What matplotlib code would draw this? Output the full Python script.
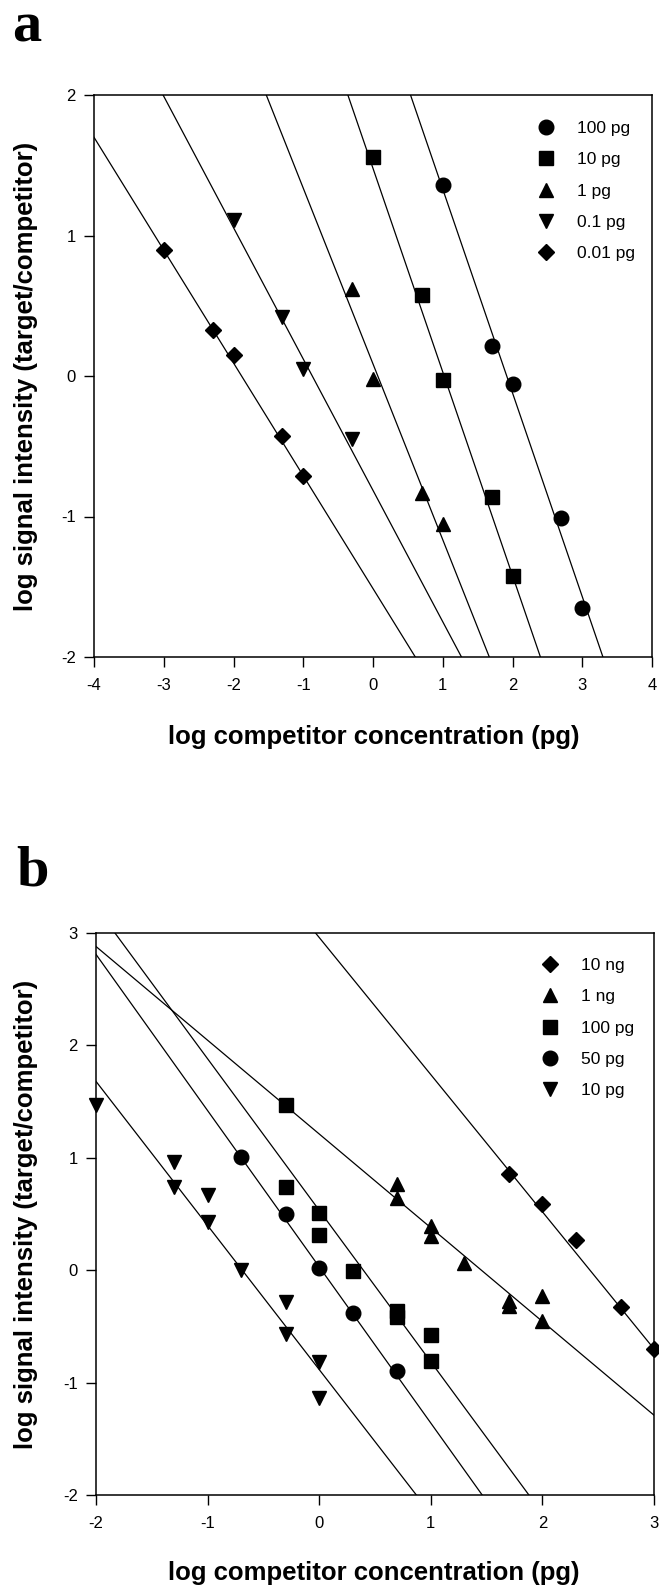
import matplotlib
matplotlib.use('Agg')
import matplotlib.pyplot as plt
import numpy as np

plt.rcParams['font.family'] = ['Liberation Sans', 'DejaVu Sans']
plt.rcParams['axes.unicode_minus'] = False

W, H = 659, 1585

# panel a: five target amounts, log target/competitor ratio vs log competitor
a_labels = ['100 pg', '10 pg', '1 pg', '0.1 pg', '0.01 pg']
a_markers = ['o', 's', '^', 'v', 'D']
a_x = [
    [1, 1.7, 2, 2.7, 3],
    [0, 0.7, 1, 1.7, 2],
    [-0.3, 0, 0.7, 1],
    [-2, -1.3, -1, -0.3],
    [-3, -2.3, -2, -1.3, -1],
]
a_y = [
    [1.36, 0.21, -0.06, -1.01, -1.65],
    [1.56, 0.58, -0.03, -0.86, -1.42],
    [0.62, -0.02, -0.83, -1.05],
    [1.11, 0.42, 0.05, -0.45],
    [0.90, 0.33, 0.15, -0.43, -0.71],
]
# regression lines (slope, intercept)
a_slope = [-1.45, -1.449, -1.251, -0.935, -0.803]
a_icept = [2.78, 1.478, 0.086, -0.814, -1.513]

# panel b
b_labels = ['10 ng', '1 ng', '100 pg', '50 pg', '10 pg']
b_markers = ['D', '^', 's', 'o', 'v']
b_x = [
    [1.7, 2, 2.3, 2.7, 3],
    [0.7, 0.7, 1, 1, 1.3, 1.7, 1.7, 2, 2],
    [-0.3, -0.3, 0, 0, 0.3, 0.7, 0.7, 1, 1],
    [-0.7, -0.3, 0, 0.3, 0.7],
    [-2, -1.3, -1.3, -1, -1, -0.7, -0.3, -0.3, 0, 0],
]
b_y = [
    [0.86, 0.59, 0.27, -0.33, -0.70],
    [0.77, 0.64, 0.39, 0.30, 0.06, -0.27, -0.32, -0.23, -0.45],
    [1.47, 0.74, 0.51, 0.31, -0.01, -0.36, -0.42, -0.58, -0.81],
    [1.01, 0.50, 0.02, -0.38, -0.90],
    [1.47, 0.96, 0.74, 0.67, 0.43, 0.0, -0.28, -0.57, -0.82, -1.14],
]
b_slope = [-1.22, -0.834, -1.348, -1.39, -1.282]
b_icept = [2.96, 1.212, 0.533, 0.03, -0.884]

MS = {'o': 10.5, 's': 9.5, '^': 10.5, 'v': 10.5, 'D': 8.5}


def axes_rect(left, top, right, bottom):
    return [left / W, 1 - bottom / H, (right - left) / W, (bottom - top) / H]


def draw_panel(ax, xs, ys, slopes, icepts, labels, markers, xlim, ylim, anchor):
    xl = np.array(xlim, dtype=float)
    for x, y, m, b, mk, lab in zip(xs, ys, slopes, icepts, markers, labels):
        ax.plot(xl, m * xl + b, color='black', lw=0.9)
        ax.plot(x, y, linestyle='none', marker=mk, ms=MS[mk], color='black',
                clip_on=False, label=lab, zorder=3)
    ax.set_xlim(xlim)
    ax.set_ylim(ylim)
    ax.set_xticks(range(xlim[0], xlim[1] + 1))
    ax.set_yticks(range(ylim[0], ylim[1] + 1))
    ax.tick_params(direction='out', length=7, width=1, labelsize=12, pad=8)
    ax.tick_params(axis='y', pad=6)
    for s in ax.spines.values():
        s.set_linewidth(1.1)
    ax.legend(loc='upper left', bbox_to_anchor=anchor, frameon=False,
              fontsize=12.5, handlelength=1.0, handletextpad=1.28,
              labelspacing=0.93, borderpad=0, borderaxespad=0, numpoints=1)


fig = plt.figure(figsize=(W / 100, H / 100), dpi=100)

ax_a = fig.add_axes(axes_rect(94, 95, 652, 657))
draw_panel(ax_a, a_x, a_y, a_slope, a_icept, a_labels, a_markers,
           (-4, 4), (-2, 2), (0.795, 0.954))

ax_b = fig.add_axes(axes_rect(96, 933, 654, 1495))
draw_panel(ax_b, b_x, b_y, b_slope, b_icept, b_labels, b_markers,
           (-2, 3), (-2, 3), (0.798, 0.9555))

label_kw = dict(fontsize=18.5, fontweight='bold', ha='center')
ylab = 'log signal intensity (target/competitor)'
xlab = 'log competitor concentration (pg)'
for top, bottom, xbase in [(95, 657, 744), (933, 1495, 1580)]:
    fig.text(26 / W, 1 - (top + bottom) / 2 / H, ylab, rotation=90, va='center', **label_kw)
    fig.text(374 / W, 1 - xbase / H, xlab, va='baseline', **label_kw)

fig.text(12 / W, 1 - 42 / H, 'a', fontsize=42, fontweight='bold',
         family='Liberation Serif', va='baseline')
fig.text(16 / W, 1 - 886 / H, 'b', fontsize=42, fontweight='bold',
         family='Liberation Serif', va='baseline')

fig.savefig('out.png', dpi=100)
